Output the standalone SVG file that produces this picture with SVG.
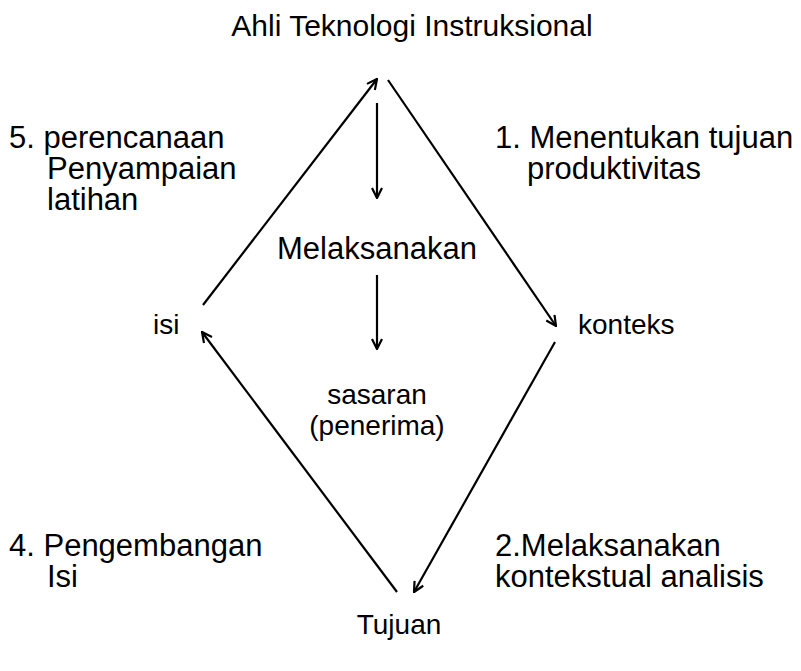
<svg xmlns="http://www.w3.org/2000/svg" width="801" height="671" viewBox="0 0 801 671">
<defs>
<style>
text{font-family:"Liberation Sans",Arial,sans-serif;font-size:31px;fill:#000}
.h{font-size:30px}
.m{font-size:28px}
.c line{stroke:#000;stroke-width:2.2;fill:none;marker-end:url(#ah)}
</style>
<marker id="ah" viewBox="0 0 12 12" refX="11" refY="6" markerWidth="12" markerHeight="12" markerUnits="userSpaceOnUse" orient="auto">
<path d="M1,1 L11,6 L1,11" fill="none" stroke="#000" stroke-width="2.2"/>
</marker>
</defs>
<rect width="801" height="671" fill="#fff"/>
<g id="n-ahli"><text x="412" y="36" text-anchor="middle" class="h">Ahli Teknologi Instruksional</text></g>
<g id="n-step5"><text x="9" y="148">5. perencanaan</text><text x="47" y="179">Penyampaian</text><text x="47" y="210">latihan</text></g>
<g id="n-step1"><text x="495" y="148">1. Menentukan tujuan</text><text x="527" y="179">produktivitas</text></g>
<g id="n-melaksanakan"><text x="377" y="259" text-anchor="middle">Melaksanakan</text></g>
<g id="n-isi"><text x="153" y="334" class="m">isi</text></g>
<g id="n-konteks"><text x="578" y="334" class="m">konteks</text></g>
<g id="n-sasaran"><text x="377" y="404" text-anchor="middle" class="m">sasaran</text><text x="377" y="435" text-anchor="middle" class="m">(penerima)</text></g>
<g id="n-step4"><text x="9" y="556">4. Pengembangan</text><text x="47" y="587">Isi</text></g>
<g id="n-step2"><text x="495" y="556">2.Melaksanakan</text><text x="495" y="587">kontekstual analisis</text></g>
<g id="n-tujuan"><text x="399" y="634" text-anchor="middle" class="m">Tujuan</text></g>
<g id="connectors" class="c">
<line x1="203" y1="305" x2="377" y2="79"/>
<line x1="388" y1="80" x2="556" y2="326"/>
<line x1="555" y1="342" x2="414" y2="592"/>
<line x1="397" y1="592" x2="202" y2="332"/>
<line x1="377" y1="103" x2="377" y2="198"/>
<line x1="377" y1="275" x2="377" y2="349"/>
</g>
</svg>
